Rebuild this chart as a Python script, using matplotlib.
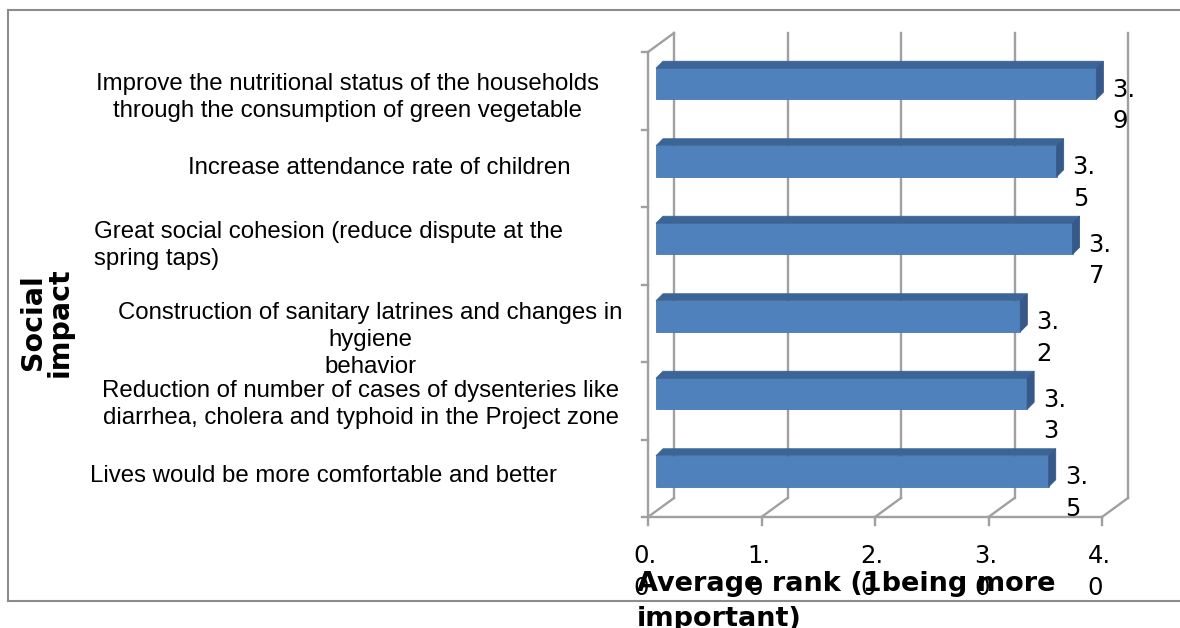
import matplotlib
matplotlib.use('Agg')
import matplotlib.pyplot as plt
import matplotlib.transforms as mtrans
from matplotlib.patches import Polygon
from matplotlib.lines import Line2D

# Data (top to bottom as shown)
categories = [
    "Improve the nutritional status of the households\nthrough the consumption of green vegetable",
    "Increase attendance rate of children",
    "Great social cohesion (reduce dispute at the\nspring taps)",
    "Construction of sanitary latrines and changes in\nhygiene\nbehavior",
    "Reduction of number of cases of dysenteries like\ndiarrhea, cholera and typhoid in the Project zone",
    "Lives would be more comfortable and better",
]
values = [3.88, 3.53, 3.67, 3.21, 3.27, 3.46]
x_ticks = [0, 1, 2, 3, 4]
x_title = "Average rank (1being more\nimportant)"
y_title = "Social\nimpact"

# Layout of the category labels (figure px centre / left, alignment, nudge down px)
label_x = [347, 379, 94, 370, 361, 324]
label_ha = ['center', 'center', 'left', 'center', 'center', 'center']
label_nudge = [7, 0, 0, 17, 4, -2]

W, H = 1180, 628
fig = plt.figure(figsize=(W / 100, H / 100), dpi=100)

# front plane of the pseudo-3D plot area in pixels
x0_px, x1_px, top_px, bot_px = 648, 1102, 52, 517
ax = fig.add_axes([x0_px / W, 1 - bot_px / H, (x1_px - x0_px) / W, (bot_px - top_px) / H])
n = len(categories)
ax.set_xlim(0, 4)
ax.set_ylim(0, n)
ax.axis('off')

ppx = (x1_px - x0_px) / 4.0      # pixels per x unit
ppy = (bot_px - top_px) / n      # pixels per category

def px(dx, dy):
    return dx / ppx, dy / ppy

DX, DY = px(26, 19)          # depth of the wall/floor
OX, OY = px(8, 7)            # bar front offset into the depth
BX, BY = px(7, 7)            # bar depth
BH = 31 / ppy                # bar height

grid_c = '#a0a0a0'
lw = 1.7
kw = dict(color=grid_c, lw=lw, clip_on=False, solid_capstyle='projecting')

# back wall gridlines and floor
for t in x_ticks:
    ax.plot([t + DX, t + DX], [DY, n + DY], zorder=1, **kw)
    ax.plot([t, t + DX], [0, DY], zorder=1, **kw)
    ax.plot([t, t], [0, -8 / ppy], zorder=1, **kw)
ax.plot([0, 4], [0, 0], zorder=1, **kw)
# left wall
ax.plot([0, 0], [0, n], zorder=1, **kw)
ax.plot([0, DX], [n, n + DY], zorder=1, **kw)
for k in range(n + 1):
    ax.plot([0, -6 / ppx], [k, k], zorder=1, **kw)

front_c, top_c, side_c = '#4f81bd', '#3c6597', '#36598a'
fs_num = 17.5
for i, v in enumerate(values):
    yc = n - i - 0.5 + OY
    yb, yt = yc - BH / 2, yc + BH / 2
    xa, xb = OX, OX + v
    ax.add_patch(Polygon([(xa, yb), (xb, yb), (xb, yt), (xa, yt)], closed=True,
                         facecolor=front_c, edgecolor='#4a78b0', lw=0.6, zorder=3, clip_on=False))
    ax.add_patch(Polygon([(xa, yt), (xb, yt), (xb + BX, yt + BY), (xa + BX, yt + BY)], closed=True,
                         facecolor=top_c, edgecolor=top_c, lw=0.6, zorder=3, clip_on=False))
    ax.add_patch(Polygon([(xb, yb), (xb + BX, yb + BY), (xb + BX, yt + BY), (xb, yt)], closed=True,
                         facecolor=side_c, edgecolor=side_c, lw=0.6, zorder=3, clip_on=False))
    lab = f"{v:.1f}".replace('.', '.\n')
    ax.text(xb + 16 / ppx, yc + 6 / ppy, lab, ha='left', va='top', ma='left',
            fontsize=fs_num, linespacing=1.4, zorder=4, clip_on=False)

# x tick labels
for t in x_ticks:
    ax.text(t - 3 / ppx, -27 / ppy, f"{t:.1f}".replace('.', '.\n'), ha='center', va='top',
            ma='left', fontsize=fs_num, linespacing=1.4, zorder=4, clip_on=False)

# category labels
blend = mtrans.blended_transform_factory(fig.transFigure, ax.transData)
for i, c in enumerate(categories):
    ax.text(label_x[i] / W, n - i - 0.5 - label_nudge[i] / ppy, c, transform=blend,
            ha=label_ha[i], va='center', ma=label_ha[i], fontsize=17.3,
            family='Liberation Sans', linespacing=1.3, clip_on=False)

# axis titles
fig.text(637 / W, 1 - 571 / H, x_title, ha='left', va='top', fontsize=19.5,
         fontweight='bold', linespacing=1.45, zorder=5)
fig.text(46 / W, 1 - 322 / H, y_title, ha='center', va='center', rotation=90,
         fontsize=20.5, fontweight='bold', linespacing=0.95)

# outer chart border
bc = '#8c8c8c'
for xs, ys in [([8, W], [10, 10]), ([8, 8], [10, 601]), ([8, W], [601, 601])]:
    fig.add_artist(Line2D([x / W for x in xs], [1 - y / H for y in ys],
                          transform=fig.transFigure, color=bc, lw=1.5))

fig.savefig('out.png', dpi=100)
